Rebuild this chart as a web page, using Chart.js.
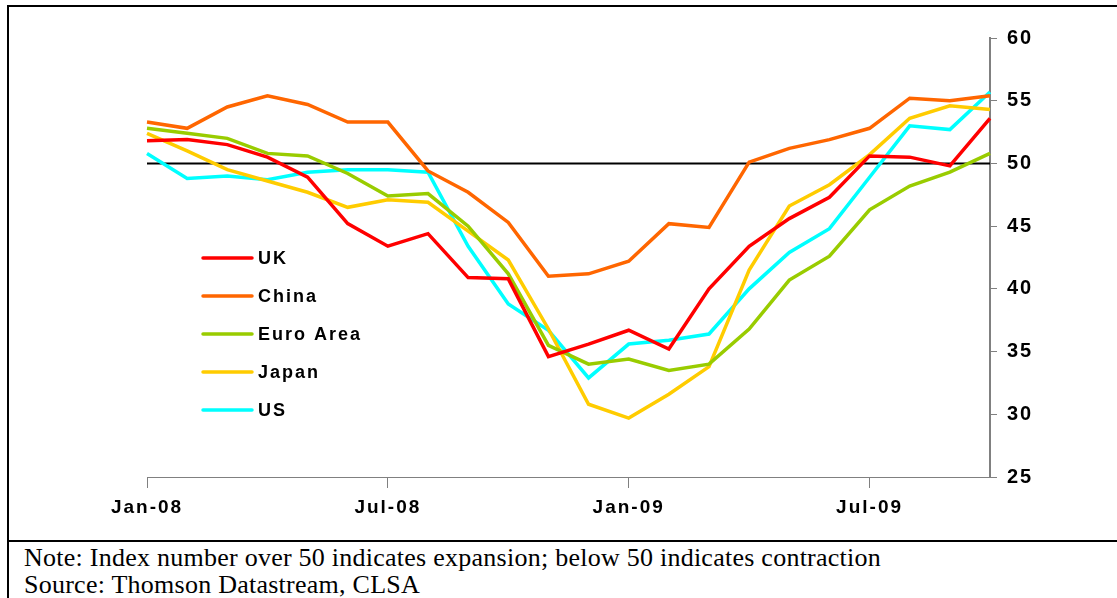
<!DOCTYPE html>
<html lang="en">
<head>
  <meta charset="UTF-8" />
  <title>PMI</title>
  <script src="https://cdn.jsdelivr.net/npm/chart.js"></script>
  <style>
    body { margin: 0; background: #fff; width: 1117px; height: 598px; overflow: hidden; position: relative; }
    .frame-top { position: absolute; left: 7px; top: 5px; width: 1110px; height: 2px; background: #000; }
    .frame-left { position: absolute; left: 7px; top: 5px; width: 2px; height: 593px; background: #000; }
    .frame-mid { position: absolute; left: 7px; top: 540px; width: 1110px; height: 2px; background: #000; }
    #wrap { position: absolute; left: 0; top: 0; width: 1117px; height: 535px; }
    .notes { position: absolute; left: 24px; top: 544px; font-family: "Liberation Serif", "Times New Roman", serif; font-size: 26px; letter-spacing: 0.25px; line-height: 27px; color: #000; white-space: nowrap; }
  </style>
</head>
<body>
  <div class="frame-top"></div>
  <div class="frame-left"></div>
  <div class="frame-mid"></div>
  <div id="wrap"><canvas id="pmiChart"></canvas></div>
  <div class="notes">
    Note: Index number over 50 indicates expansion; below 50 indicates contraction<br>
    Source: Thomson Datastream, CLSA
  </div>

  <script>
    // months Jan-08 .. Oct-09
    const months = ['Jan-08','Feb-08','Mar-08','Apr-08','May-08','Jun-08','Jul-08','Aug-08','Sep-08','Oct-08','Nov-08','Dec-08',
                    'Jan-09','Feb-09','Mar-09','Apr-09','May-09','Jun-09','Jul-09','Aug-09','Sep-09','Oct-09'];
    const uk    = [51.8, 51.9, 51.5, 50.5, 48.9, 45.2, 43.4, 44.4, 40.9, 40.8, 34.6, 35.6, 36.7, 35.2, 40.0, 43.4, 45.6, 47.3, 50.6, 50.5, 49.8, 53.6];
    const china = [53.3, 52.8, 54.5, 55.4, 54.7, 53.3, 53.3, 49.4, 47.7, 45.3, 41.0, 41.2, 42.2, 45.2, 44.9, 50.1, 51.2, 51.9, 52.8, 55.2, 55.0, 55.4];
    const euro  = [52.8, 52.4, 52.0, 50.8, 50.6, 49.2, 47.4, 47.6, 45.0, 41.2, 35.5, 34.0, 34.4, 33.5, 34.0, 36.8, 40.7, 42.6, 46.3, 48.2, 49.3, 50.8];
    const japan = [52.4, 51.0, 49.5, 48.6, 47.7, 46.5, 47.1, 46.9, 44.6, 42.3, 36.8, 30.8, 29.7, 31.6, 33.8, 41.5, 46.6, 48.3, 50.7, 53.6, 54.6, 54.3];
    const us    = [50.8, 48.8, 49.0, 48.7, 49.3, 49.5, 49.5, 49.3, 43.4, 38.8, 36.7, 32.9, 35.6, 35.9, 36.4, 40.0, 42.9, 44.8, 48.9, 53.0, 52.7, 55.7];
    const yMin = 25, yMax = 60, yStep = 5;
    const threshold = 50;

    const FONT = 'Liberation Sans, Arial, sans-serif';

    // letter spacing gets lost when canvas resizes, so set it again each time
    const spacing = {
      id: 'spacing',
      beforeUpdate(chart) { chart.ctx.letterSpacing = '2px'; },
      beforeDraw(chart) { chart.ctx.letterSpacing = '2px'; }
    };

    // black line at 50
    const midLine = {
      id: 'midLine',
      beforeDatasetsDraw(chart) {
        const { ctx, chartArea, scales } = chart;
        const y = Math.round(scales.y.getPixelForValue(threshold)) + 0.5;
        ctx.save();
        ctx.strokeStyle = '#000';
        ctx.lineWidth = 2;
        ctx.beginPath();
        ctx.moveTo(chartArea.left, y);
        ctx.lineTo(chartArea.right, y);
        ctx.stroke();
        ctx.restore();
      }
    };

    // legend inside the plot, left side
    const innerLegend = {
      id: 'innerLegend',
      afterDraw(chart) {
        const ctx = chart.ctx;
        ctx.save();
        ctx.font = 'bold 18px ' + FONT;
        ctx.textBaseline = 'middle';
        ctx.fillStyle = '#000';
        chart.data.datasets.forEach((ds, i) => {
          const y = 258 + i * 38;
          ctx.strokeStyle = ds.borderColor;
          ctx.lineWidth = 3.5;
          ctx.lineCap = 'round';
          ctx.beginPath();
          ctx.moveTo(203, y);
          ctx.lineTo(252, y);
          ctx.stroke();
          ctx.fillText(ds.label, 258, y + 1);
        });
        ctx.restore();
      }
    };

    const line = (label, data, color) => ({
      label, data, borderColor: color, backgroundColor: color,
      borderWidth: 3.5, pointRadius: 0, tension: 0, fill: false
    });

    new Chart(document.getElementById('pmiChart'), {
      type: 'line',
      data: {
        labels: months,
        datasets: [
          line('UK', uk, '#ff0000'),
          line('China', china, '#ff6600'),
          line('Euro Area', euro, '#99cc00'),
          line('Japan', japan, '#ffcc00'),
          line('US', us, '#00ffff')
        ]
      },
      options: {
        responsive: true,
        maintainAspectRatio: false,
        animation: false,
        layout: { padding: { left: 147, top: 38, right: 0, bottom: 0 } },
        plugins: { legend: { display: false }, tooltip: { enabled: false } },
        scales: {
          x: {
            offset: false,
            grid: {
              drawOnChartArea: false,
              tickLength: 11,
              tickColor: c => (c.index % 6 === 0 ? '#808080' : 'rgba(0,0,0,0)')
            },
            border: { color: '#808080', width: 1 },
            ticks: {
              autoSkip: false,
              maxRotation: 0,
              padding: 8,
              color: '#000',
              font: { family: FONT, size: 19, weight: 'bold' },
              callback: (v, i) => (i % 6 === 0 ? months[i] : '')
            },
            afterFit: s => { s.height = 58; }
          },
          y: {
            position: 'right',
            min: yMin,
            max: yMax,
            grid: { drawOnChartArea: false, tickLength: 7, tickColor: '#808080' },
            border: { color: '#808080', width: 2 },
            ticks: {
              stepSize: yStep,
              padding: 10,
              color: '#000',
              font: { family: FONT, size: 20, weight: 'bold' }
            },
            afterFit: s => { s.width = 127; }
          }
        }
      },
      plugins: [spacing, midLine, innerLegend]
    });
  </script>
</body>
</html>
